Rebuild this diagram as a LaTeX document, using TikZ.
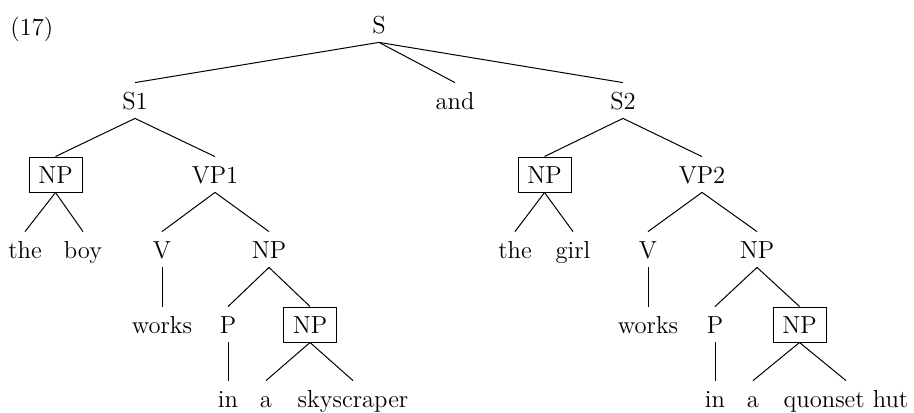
\documentclass[tikz,border=0pt]{standalone}
\begin{document}
\begin{tikzpicture}[x=0.5pt,y=-0.5pt,
  every node/.style={font=\fontsize{12.3}{14}\selectfont},
  lab/.style={anchor=base,inner xsep=0pt,inner ysep=4.5pt,text height=8.5pt,text depth=0pt},
  boxed/.style={lab,draw,line width=0.5pt,minimum width=26.5pt,inner xsep=4pt},
  edge/.style={line width=0.5pt}]
\useasboundingbox (0,0) rectangle (914,412);
\node[anchor=base west,inner sep=0pt] (ex) at (10,35) {(17)};
% row 0
\node[lab] (S) at (379,33) {S};
% row 1
\node[lab] (S1) at (135,109) {S1};
\node[lab] (and) at (455,109) {and};
\node[lab] (S2) at (623,109) {S2};
% row 2
\node[boxed] (np1) at (55.5,183) {NP};
\node[lab] (vp1) at (215,183) {VP1};
\node[boxed] (np2) at (544.5,183) {NP};
\node[lab] (vp2) at (702,183) {VP2};
% row 3
\node[lab] (the1) at (25,258) {the};
\node[lab] (boy) at (83,258) {boy};
\node[lab] (v1) at (162,258) {V};
\node[lab] (npa) at (269,258) {NP};
\node[lab] (the2) at (515,258) {the};
\node[lab] (girl) at (573,258) {girl};
\node[lab] (v2) at (648,258) {V};
\node[lab] (npb) at (757,258) {NP};
% row 4
\node[lab] (works1) at (162,333) {works};
\node[lab] (p1) at (228,333) {P};
\node[boxed] (npc) at (310,333) {NP};
\node[lab] (works2) at (648,333) {works};
\node[lab] (p2) at (715,333) {P};
\node[boxed] (npd) at (799.5,333) {NP};
% row 5
\node[lab] (in1) at (228,407) {in};
\node[lab] (a1) at (266,407) {a};
\node[lab] (sky) at (353,407) {skyscraper};
\node[lab] (in2) at (715,407) {in};
\node[lab] (a2) at (753,407) {a};
\node[lab] (qh) at (846,407) {quonset hut};
% edges
\draw[edge] (S.south) -- (S1.north);
\draw[edge] (S.south) -- (and.north);
\draw[edge] (S.south) -- (S2.north);
\draw[edge] (S1.south) -- (np1.north);
\draw[edge] (S1.south) -- (vp1.north);
\draw[edge] (S2.south) -- (np2.north);
\draw[edge] (S2.south) -- (vp2.north);
\draw[edge] (np1.south) -- (the1.north);
\draw[edge] (np1.south) -- (boy.north);
\draw[edge] (vp1.south) -- (v1.north);
\draw[edge] (vp1.south) -- (npa.north);
\draw[edge] (np2.south) -- (the2.north);
\draw[edge] (np2.south) -- (girl.north);
\draw[edge] (vp2.south) -- (v2.north);
\draw[edge] (vp2.south) -- (npb.north);
\draw[edge] (v1.south) -- (works1.north);
\draw[edge] (npa.south) -- (p1.north);
\draw[edge] (npa.south) -- (npc.north);
\draw[edge] (v2.south) -- (works2.north);
\draw[edge] (npb.south) -- (p2.north);
\draw[edge] (npb.south) -- (npd.north);
\draw[edge] (p1.south) -- (in1.north);
\draw[edge] (npc.south) -- (a1.north);
\draw[edge] (npc.south) -- (sky.north);
\draw[edge] (p2.south) -- (in2.north);
\draw[edge] (npd.south) -- (a2.north);
\draw[edge] (npd.south) -- (qh.north);
\end{tikzpicture}
\end{document}
